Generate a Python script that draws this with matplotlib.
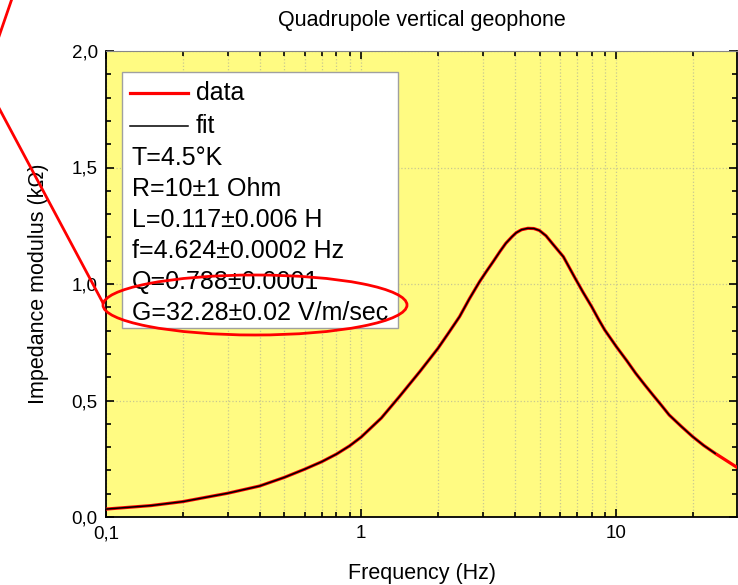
import numpy as np
import matplotlib.pyplot as plt
from matplotlib.patches import Rectangle, Ellipse
from matplotlib.lines import Line2D
from matplotlib.ticker import FixedLocator, LogLocator, MultipleLocator, FuncFormatter

plt.rcParams['font.family'] = ['Liberation Sans', 'DejaVu Sans']

# Values
freq_hz = [0.1, 0.15, 0.2, 0.3, 0.4, 0.5, 0.6, 0.7, 0.8, 0.9, 1.0, 1.2, 1.41, 1.7,
           2.0, 2.2, 2.43, 2.65, 2.91, 3.1, 3.29, 3.5, 3.69, 3.9, 4.05, 4.25, 4.5,
           4.75, 4.99, 5.3, 5.6, 6.2, 6.9, 7.4, 8.0, 8.5, 9.0, 10.0, 11.0, 11.9,
           12.9, 13.9, 15.0, 16.1, 18.0, 19.9, 22.0, 24.4, 29.8]
data_kohm = [0.034, 0.049, 0.066, 0.102, 0.133, 0.170, 0.205, 0.237, 0.270, 0.305,
             0.343, 0.425, 0.516, 0.625, 0.724, 0.790, 0.860, 0.935, 1.010, 1.055,
             1.096, 1.140, 1.175, 1.203, 1.220, 1.233, 1.239, 1.238, 1.230, 1.207,
             1.175, 1.117, 1.024, 0.965, 0.903, 0.850, 0.803, 0.731, 0.670, 0.617,
             0.568, 0.524, 0.480, 0.438, 0.388, 0.345, 0.307, 0.273, 0.212]
# fit stops a little before the data does
fit_freq = freq_hz[:-1]
fit_kohm = data_kohm[:-1]

params = ["T=4.5°K", "R=10±1 Ohm", "L=0.117±0.006 H", "f=4.624±0.0002 Hz",
          "Q=0.788±0.0001", "G=32.28±0.02 V/m/sec"]

W, H = 738, 585
fig = plt.figure(figsize=(W / 100, H / 100), dpi=100)
ax = fig.add_axes([106 / W, 1 - 517 / H, (737 - 106) / W, (517 - 51) / H])
ax.set_facecolor('#fffb82')

ax.plot(freq_hz, data_kohm, color='#ff0000', lw=2.3, zorder=3)
ax.plot(fit_freq, fit_kohm, color='black', lw=1.1, zorder=4)

ax.set_xscale('log')
ax.set_xlim(0.1, 29.7)
ax.set_ylim(0, 2.0)

ax.xaxis.set_major_locator(FixedLocator([0.1, 1, 10]))
ax.xaxis.set_minor_locator(LogLocator(base=10, subs=np.arange(2, 10)))
ax.xaxis.set_major_formatter(FuncFormatter(lambda v, p: f'{v:g}'.replace('.', ',')))
ax.xaxis.set_minor_formatter(FuncFormatter(lambda v, p: ''))
ax.yaxis.set_major_locator(MultipleLocator(0.5))
ax.yaxis.set_minor_locator(MultipleLocator(0.1))
ax.yaxis.set_major_formatter(FuncFormatter(lambda v, p: f'{v:.1f}'.replace('.', ',')))

ax.tick_params(which='both', direction='in', top=True, right=True, labelsize=13.5, width=1.2)
ax.tick_params(which='major', length=6, pad=6)
ax.tick_params(which='minor', length=3.5)

ax.grid(True, which='major', axis='both', color='#c8c890', linestyle=':', lw=0.9)
ax.grid(True, which='minor', axis='x', color='#c8c890', linestyle=':', lw=0.9)

for s in ['left', 'bottom', 'right']:
    ax.spines[s].set_linewidth(1.3)
ax.spines['top'].set_color('#888888')

ax.set_title('Quadrupole vertical geophone', fontsize=15.5, pad=18)
ax.set_xlabel('Frequency (Hz)', fontsize=15.5, labelpad=15)
ax.set_ylabel('Impedance modulus (kΩ)', fontsize=15.5, labelpad=16)

# legend box drawn by hand, as in the original
ax.add_patch(Rectangle((0.0254, 0.4056), 0.4374, 0.5494, transform=ax.transAxes,
                       facecolor='white', edgecolor='#a0a0a0', lw=1, zorder=5))
ax.add_line(Line2D([0.038, 0.130], [0.910, 0.910], transform=ax.transAxes,
                   color='#ff0000', lw=2.3, zorder=6))
ax.add_line(Line2D([0.038, 0.130], [0.839, 0.839], transform=ax.transAxes,
                   color='black', lw=1.1, zorder=6))
ax.text(0.1426, 0.910, 'data', transform=ax.transAxes, fontsize=18, va='center', zorder=6)
ax.text(0.1426, 0.839, 'fit', transform=ax.transAxes, fontsize=18, va='center', zorder=6)
y0 = 0.770
for i, s in enumerate(params):
    ax.text(0.041, y0 - i * 0.0664, s, transform=ax.transAxes, fontsize=18,
            va='center', zorder=6)

# red highlight ellipse and pointer line
fig.add_artist(Ellipse((255 / W, 1 - 305 / H), 304 / W, 60 / H, transform=fig.transFigure,
                       fill=False, edgecolor='#ff0000', lw=2, zorder=10))
fig.add_artist(Line2D([11.5 / W, -16 / W, 103 / W], [1, 1 - 80 / H, 1 - 303 / H],
                      transform=fig.transFigure, color='#ff0000', lw=2, zorder=10))

fig.savefig('out.png', dpi=100)
